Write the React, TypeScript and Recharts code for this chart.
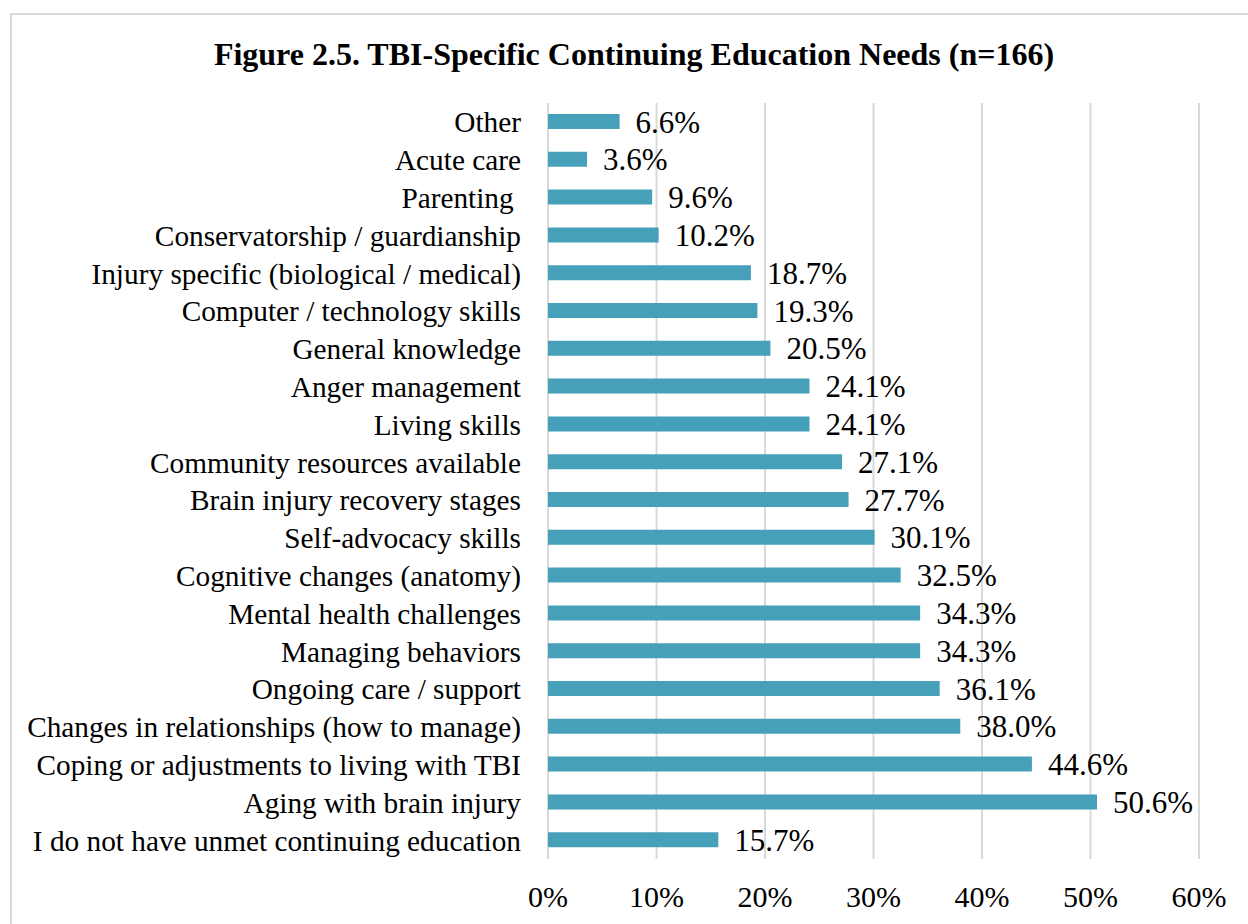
import { BarChart, Bar, XAxis, YAxis, CartesianGrid, LabelList } from 'recharts'

const categories = [
  'Other',
  'Acute care',
  'Parenting ',
  'Conservatorship / guardianship',
  'Injury specific (biological / medical)',
  'Computer / technology skills',
  'General knowledge',
  'Anger management',
  'Living skills',
  'Community resources available',
  'Brain injury recovery stages',
  'Self-advocacy skills',
  'Cognitive changes (anatomy)',
  'Mental health challenges',
  'Managing behaviors',
  'Ongoing care / support',
  'Changes in relationships (how to manage)',
  'Coping or adjustments to living with TBI',
  'Aging with brain injury',
  'I do not have unmet continuing education',
]

const percents = [
  6.6, 3.6, 9.6, 10.2, 18.7, 19.3, 20.5, 24.1, 24.1, 27.1, 27.7, 30.1, 32.5, 34.3, 34.3, 36.1, 38.0, 44.6, 50.6,
  15.7,
]

const xTicks = [0, 10, 20, 30, 40, 50, 60]

const data = categories.map((name, i) => ({ name, value: percents[i] }))

const FONT = '"Liberation Serif", "Times New Roman", serif'

function CategoryTick(props: any) {
  const { x, y, payload } = props
  return (
    <text
      x={x}
      y={y}
      dy="0.355em"
      textAnchor="end"
      fontFamily={FONT}
      fontSize={29.3}
      fill="#000"
      style={{ whiteSpace: 'pre' }}
    >
      {payload.value}
    </text>
  )
}

export default function App() {
  return (
    <div
      style={{
        position: 'absolute',
        left: 0,
        top: 0,
        width: 1248,
        height: 924,
        overflow: 'hidden',
        background: '#fff',
      }}
    >
      <div
        style={{
          position: 'absolute',
          left: 10,
          top: 13,
          width: 1300,
          height: 1000,
          border: '2px solid #d9d9d9',
        }}
      />
      <div
        style={{
          position: 'absolute',
          left: 0,
          top: 36,
          width: 1268,
          textAlign: 'center',
          fontFamily: FONT,
          fontWeight: 'bold',
          fontSize: 32,
          color: '#000',
        }}
      >
        Figure 2.5. TBI-Specific Continuing Education Needs (n=166)
      </div>
      <div style={{ position: 'absolute', left: 0, top: 0 }}>
        <BarChart
          width={1248}
          height={924}
          data={data}
          layout="vertical"
          margin={{ top: 103, right: 49, left: 0, bottom: 0 }}
          barCategoryGap={0}
        >
          <CartesianGrid horizontal={false} stroke="#d9d9d9" strokeWidth={2} />
          <XAxis
            type="number"
            domain={[0, 60]}
            ticks={xTicks}
            tickFormatter={(v) => `${v}%`}
            axisLine={false}
            tickLine={false}
            tickSize={0}
            tickMargin={27}
            height={65}
            interval={0}
            tick={{ fill: '#000', fontSize: 30, fontFamily: FONT }}
          />
          <YAxis
            type="category"
            dataKey="name"
            width={548}
            axisLine={false}
            tickLine={false}
            tickSize={0}
            tickMargin={27}
            interval={0}
            tick={<CategoryTick />}
          />
          <Bar dataKey="value" fill="#46a0ba" barSize={15} isAnimationActive={false}>
            <LabelList
              dataKey="value"
              position="right"
              offset={16}
              formatter={(v: any) => `${Number(v).toFixed(1)}%`}
              style={{ fill: '#000', fontSize: 31, fontFamily: FONT }}
            />
          </Bar>
        </BarChart>
      </div>
    </div>
  )
}
